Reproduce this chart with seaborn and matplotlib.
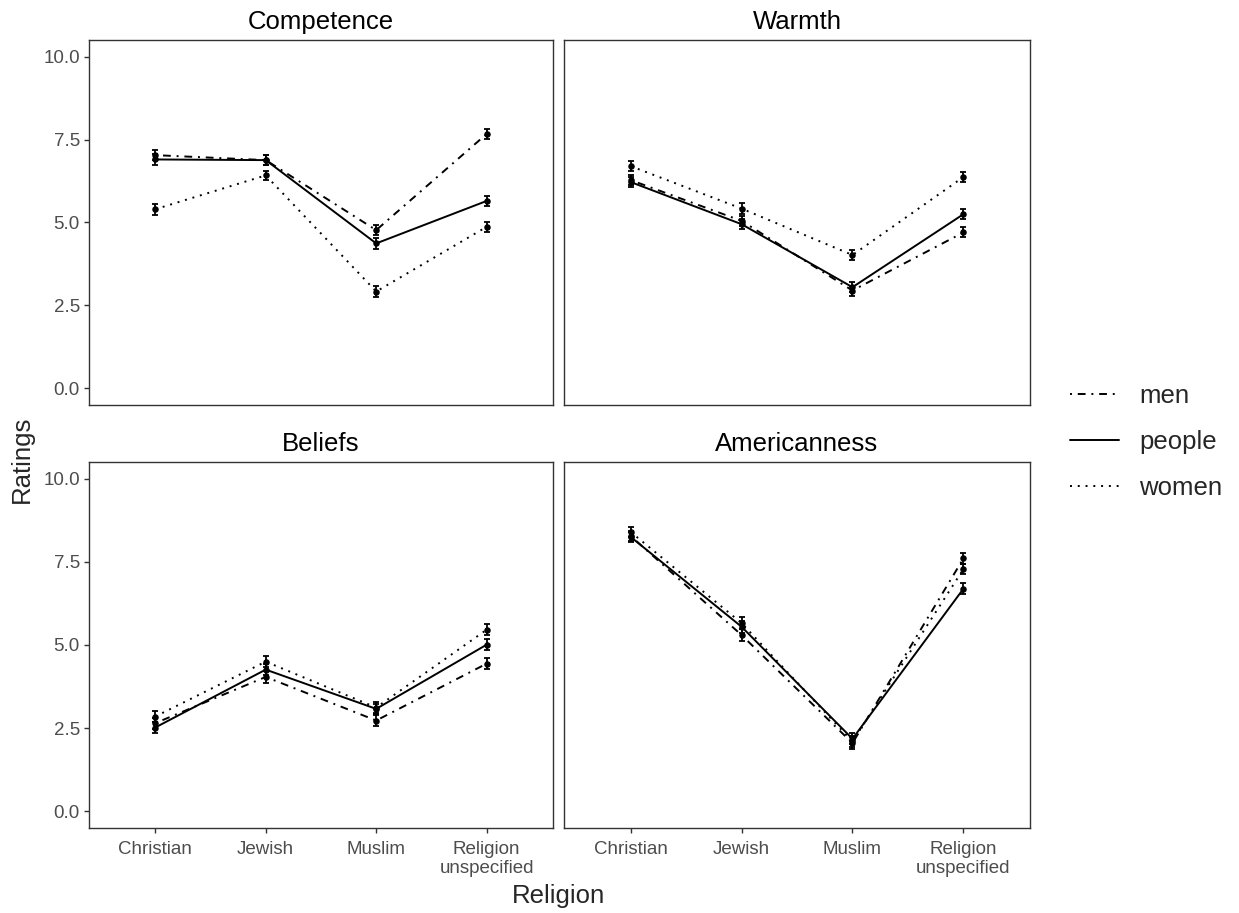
"""plot.py - ratings by religion and target, four facets"""

import pandas as pd
import matplotlib
matplotlib.use('Agg')
import matplotlib.pyplot as plt
from matplotlib.lines import Line2D
import seaborn as sns

religions = ['Christian', 'Jewish', 'Muslim', 'Religion\nunspecified']
targets = ['men', 'people', 'women']
measures = ['Competence', 'Warmth', 'Beliefs', 'Americanness']

# means per target, order follows religions
competence_men = [7.03, 6.88, 4.77, 7.67]
competence_people = [6.90, 6.88, 4.37, 5.65]
competence_women = [5.40, 6.42, 2.92, 4.87]

warmth_men = [6.28, 5.05, 2.95, 4.70]
warmth_people = [6.22, 4.95, 3.05, 5.25]
warmth_women = [6.70, 5.42, 4.02, 6.37]

beliefs_men = [2.65, 4.04, 2.73, 4.44]
beliefs_people = [2.52, 4.26, 3.08, 5.01]
beliefs_women = [2.85, 4.50, 3.12, 5.46]

american_men = [8.28, 5.30, 2.05, 7.60]
american_people = [8.25, 5.55, 2.18, 6.69]
american_women = [8.40, 5.66, 2.10, 7.28]

# standard errors, same layout
competence_se = [0.16, 0.14, 0.16, 0.15]
warmth_se = [0.16, 0.16, 0.15, 0.15]
beliefs_se = [0.17, 0.17, 0.16, 0.16]
american_se = [0.16, 0.18, 0.17, 0.16]

means = {
    'Competence': (competence_men, competence_people, competence_women),
    'Warmth': (warmth_men, warmth_people, warmth_women),
    'Beliefs': (beliefs_men, beliefs_people, beliefs_women),
    'Americanness': (american_men, american_people, american_women),
}
ses = {'Competence': competence_se, 'Warmth': warmth_se,
       'Beliefs': beliefs_se, 'Americanness': american_se}

rows = []
for m in measures:
    for t, vals in zip(targets, means[m]):
        for r, v, s in zip(religions, vals, ses[m]):
            rows.append({'measure': m, 'target': t, 'religion': r, 'rating': v, 'se': s})
df = pd.DataFrame(rows)

sns.set_theme(style='white')
plt.rcParams['font.family'] = ['Liberation Sans', 'DejaVu Sans']

dash_map = {'men': (1, 3, 4, 3), 'people': '', 'women': (1, 3)}
LW = 1.4

fig = plt.figure(figsize=(12.39, 9.13), dpi=100)
positions = [
    [0.0718, 0.5564, 0.3745, 0.3998],
    [0.4552, 0.5564, 0.3761, 0.3998],
    [0.0718, 0.0931, 0.3745, 0.4009],
    [0.4552, 0.0931, 0.3761, 0.4009],
]

for i, (m, pos) in enumerate(zip(measures, positions)):
    ax = fig.add_axes(pos)
    sub = df[df['measure'] == m]
    sns.lineplot(data=sub, x='religion', y='rating', style='target',
                 style_order=targets, dashes=dash_map, color='black',
                 linewidth=LW, sort=False, legend=False, ax=ax)
    for t in targets:
        st = sub[sub['target'] == t]
        ax.errorbar(st['religion'], st['rating'], yerr=st['se'], fmt='none',
                    ecolor='black', elinewidth=1.3, capsize=2.2, capthick=1.3)
    sns.scatterplot(data=sub, x='religion', y='rating', color='black', s=22,
                    edgecolor='black', linewidth=0, legend=False, ax=ax)

    ax.set_xlim(-0.6, 3.6)
    ax.set_ylim(-0.5, 10.5)
    ax.set_yticks([0, 2.5, 5, 7.5, 10])
    ax.set_xlabel('')
    ax.set_ylabel('')
    ax.set_title(m, fontsize=18.5, pad=8, color='black')
    for sp in ax.spines.values():
        sp.set_color('#333333')
        sp.set_linewidth(1.0)
    ax.tick_params(axis='both', length=3.6, width=1.0, color='#333333',
                   labelsize=13.5, labelcolor='#4D4D4D', pad=3,
                   bottom=True, left=True)
    ax.tick_params(axis='x', pad=6)
    for lab in ax.get_xticklabels():
        lab.set_linespacing(1.1)
    if i < 2:
        ax.tick_params(axis='x', bottom=False, labelbottom=False)
    if i % 2 == 1:
        ax.tick_params(axis='y', left=False, labelleft=False)

fig.text(0.018, 0.497, 'Ratings', rotation=90, va='center', ha='center', fontsize=18.5)
fig.text(0.451, 0.019, 'Religion', va='center', ha='center', fontsize=18.5)

handles = []
for t in targets:
    h = Line2D([], [], color='black', linewidth=LW, linestyle='-' if t == 'people' else '--')
    if t != 'people':
        h.set_dashes(dash_map[t])
    handles.append(h)
fig.legend(handles, targets, loc='center left', bbox_to_anchor=(0.845, 0.516),
           frameon=False, fontsize=18.5, handlelength=1.9, handletextpad=0.8,
           labelspacing=0.85)

fig.savefig('out.png', dpi=100)
plt.close(fig)
